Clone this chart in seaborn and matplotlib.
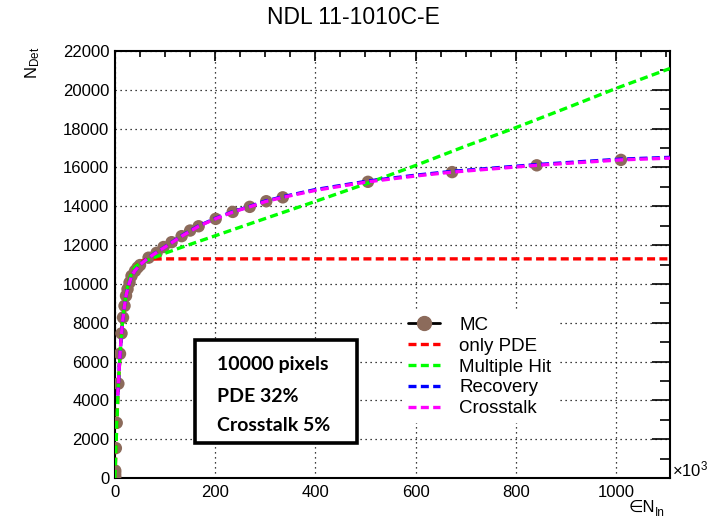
import matplotlib
matplotlib.use('Agg')
import matplotlib.pyplot as plt
import seaborn as sns
from matplotlib.lines import Line2D
from matplotlib.patches import Rectangle
from matplotlib.ticker import MultipleLocator

# ── data (x in units of 10^3 incoming photons) ──────────────────────────────
mc_x = [0.05, 0.1, 0.2, 0.3, 0.5, 1.7, 3.4, 6.7, 10, 13, 16, 19, 22, 25, 29,
        33, 40, 45, 50, 67, 83, 97, 113, 133, 150, 167, 201, 235, 269, 302,
        335, 505, 673, 842, 1010]
mc_y = [20, 60, 130, 250, 380, 1540, 2840, 4860, 6400, 7450, 8270, 8870,
        9390, 9730, 10070, 10410, 10670, 10840, 10970, 11350, 11600, 11900,
        12150, 12460, 12750, 12970, 13350, 13710, 13970, 14260, 14460, 15260,
        15760, 16110, 16390]

pde_x = [0, 1.7, 3.4, 6.7, 10, 13, 16, 19, 22, 25, 29, 33, 40, 50, 60, 75,
         100, 1108]
pde_y = [0, 1400, 2700, 4800, 6350, 7450, 8300, 8950, 9450, 9850, 10250,
         10550, 10880, 11130, 11230, 11280, 11290, 11290]

mh_x = [0, 1.7, 3.4, 6.7, 10, 13, 16, 19, 22, 25, 29, 33, 40, 50, 60, 75,
        100, 130, 200, 300, 400, 500, 600, 700, 800, 900, 1000, 1108]
mh_y = [0, 1400, 2700, 4800, 6350, 7450, 8300, 8950, 9450, 9850, 10250,
        10550, 10880, 11080, 11180, 11320, 11580, 11860, 12480, 13370, 14250,
        15150, 16100, 17100, 18050, 19050, 20070, 21100]

rec_x = [5.5, 6.7, 10, 13, 16, 19, 22, 25, 29, 33, 40, 50, 67, 83, 100, 133,
         167, 200, 235, 270, 300, 335, 400, 505, 600, 673, 842, 1010, 1108]
rec_y = [4250, 4860, 6400, 7450, 8270, 8870, 9390, 9730, 10070, 10410, 10690,
         10990, 11360, 11630, 11910, 12480, 12990, 13370, 13720, 14000, 14270,
         14490, 14860, 15300, 15600, 15800, 16150, 16430, 16520]

xt_x = [5.5, 6.7, 10, 13, 16, 19, 22, 25, 29, 33, 40, 50, 67, 83, 100, 133,
        167, 200, 235, 270, 300, 335, 400, 505, 600, 673, 842, 1010, 1108]
xt_y = [4250, 4860, 6400, 7450, 8270, 8870, 9390, 9730, 10070, 10410, 10690,
        10990, 11350, 11620, 11900, 12460, 12970, 13350, 13700, 13980, 14240,
        14460, 14820, 15260, 15560, 15760, 16110, 16390, 16480]

labels = ['MC', 'only PDE', 'Multiple Hit', 'Recovery', 'Crosstalk']
info_lines = ['10000 pixels', 'PDE 32%', 'Crosstalk 5%']

BROWN = '#8c6b5b'
DASH = [2.4, 1.3]

sns.set_style('white', rc={'axes.edgecolor': 'black', 'text.color': 'black',
                           'xtick.color': 'black', 'ytick.color': 'black'})
plt.rcParams['font.family'] = ['Liberation Sans', 'DejaVu Sans']
plt.rcParams['mathtext.fontset'] = 'custom'
plt.rcParams['mathtext.rm'] = 'Liberation Sans'
plt.rcParams['mathtext.it'] = 'Liberation Sans:italic'

fig = plt.figure(figsize=(7.23, 5.20), dpi=100)
W, H = 723, 520
ax = fig.add_axes([115 / W, 1 - 478 / H, 555 / W, 427 / H])

sns.scatterplot(x=mc_x, y=mc_y, ax=ax, color=BROWN, s=80, edgecolor='none',
                zorder=3, legend=False)

def dashed(x, y, c):
    sns.lineplot(x=x, y=y, ax=ax, color=c, lw=2.4, sort=False,
                 estimator=None, zorder=4, legend=False)
    ax.lines[-1].set_dashes(DASH)

dashed(pde_x, pde_y, '#ff0000')
dashed(mh_x, mh_y, '#00ff00')
dashed(rec_x, rec_y, '#0000ff')
dashed(xt_x, xt_y, '#ff00ff')

ax.set_xlim(0, 1108)
ax.set_ylim(0, 22000)
ax.xaxis.set_major_locator(MultipleLocator(200))
ax.xaxis.set_minor_locator(MultipleLocator(50))
ax.yaxis.set_major_locator(MultipleLocator(2000))
ax.yaxis.set_minor_locator(MultipleLocator(1000))
ax.set_axisbelow(True)
ax.grid(True, which='major', color='black', linestyle=(0, (1, 3)), lw=0.9)
for s in ax.spines.values():
    s.set_linewidth(1.5)
    s.set_color('black')
ax.tick_params(which='both', direction='in', top=True, right=True,
               labelsize=12, width=1.2)
ax.tick_params(axis='y', which='major', length=13, pad=4)
ax.tick_params(axis='y', which='minor', length=7)
ax.tick_params(axis='x', which='major', length=7, pad=5)
ax.tick_params(axis='x', which='minor', length=4)
ax.set_xlabel('')
ax.set_ylabel('')

handles = [Line2D([], [], color='black', lw=2, marker='o', markersize=10,
                  markerfacecolor=BROWN, markeredgecolor=BROWN)]
for c in ['#ff0000', '#00ff00', '#0000ff', '#ff00ff']:
    handles.append(Line2D([], [], color=c, lw=2.4, dashes=DASH))
ax.legend(handles, labels, loc='upper left',
          bbox_to_anchor=(402 / W, 1 - 311 / H), bbox_transform=fig.transFigure,
          fontsize=13.5, frameon=True, facecolor='white', edgecolor='none',
          framealpha=1, fancybox=False, handlelength=1.75, handletextpad=1.0,
          labelspacing=0.2, borderpad=0.3, borderaxespad=0)

# info box
fig.add_artist(Rectangle((195 / W, 1 - 443 / H), 162 / W, 103 / H,
                         transform=fig.transFigure, facecolor='white',
                         edgecolor='black', lw=2.6, zorder=5))
for txt, yb in zip(info_lines, [370, 402, 431]):
    fig.text(217 / W, 1 - yb / H, txt, fontsize=14, fontweight='bold',
             family=['Lato', 'DejaVu Sans'], va='baseline', zorder=6)

fig.text(353 / W, 1 - 17 / H, 'NDL 11-1010C-E', fontsize=16.5,
         ha='center', va='center')
fig.text(33 / W, 1 - 47 / H, r'N$_{\mathrm{Det}}$', fontsize=12,
         rotation=90, ha='center', va='top')
fig.text(655 / W, 1 - 512 / H, '∈N', fontsize=12,
         family=['Liberation Sans', 'DejaVu Sans'], ha='right', va='baseline')
fig.text(655 / W, 1 - 516 / H, 'In', fontsize=8.5, ha='left', va='baseline')
fig.text(672 / W, 1 - 479 / H, r'×10$^{3}$', fontsize=12,
         ha='left', va='bottom')

fig.savefig('out.png', dpi=100)
